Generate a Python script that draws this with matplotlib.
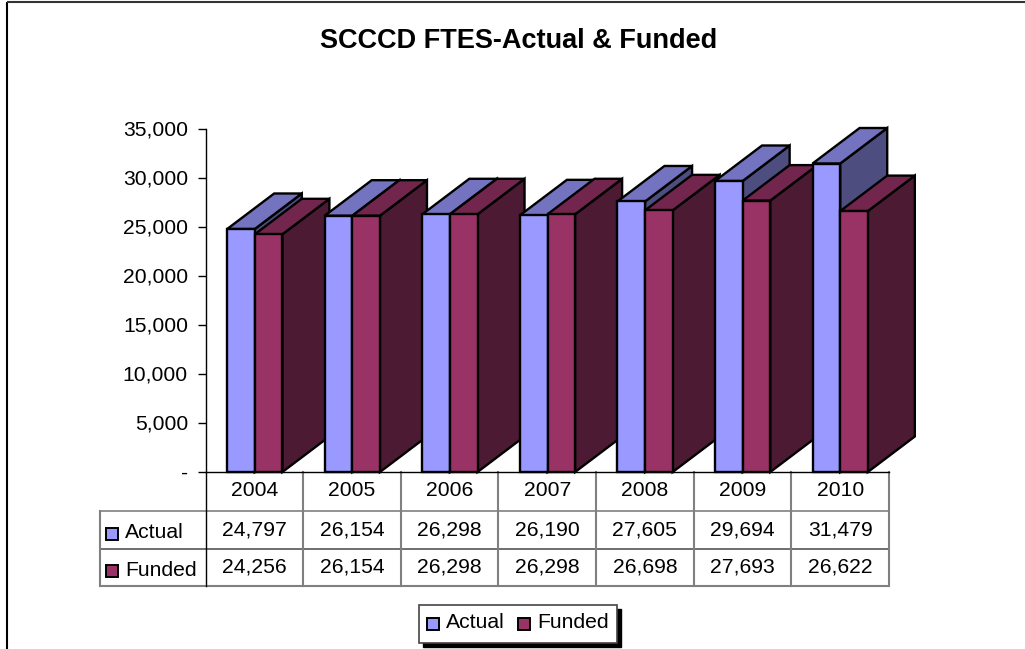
import matplotlib
matplotlib.use('Agg')
import matplotlib.pyplot as plt
from matplotlib.patches import Polygon, Rectangle
from matplotlib.transforms import ScaledTranslation

plt.rcParams['font.family'] = ['Liberation Sans', 'DejaVu Sans']

years = ['2004', '2005', '2006', '2007', '2008', '2009', '2010']
actual = [24797, 26154, 26298, 26190, 27605, 29694, 31479]
funded = [24256, 26154, 26298, 26298, 26698, 27693, 26622]
y_ticks = [0, 5000, 10000, 15000, 20000, 25000, 30000, 35000]
y_labels = ['-', '5,000', '10,000', '15,000', '20,000', '25,000', '30,000', '35,000']

W, H = 1025, 649
FS = 15.2
EDGE = 1.7

# 3d look: colours for front, top and side of each series
actual_cols = ('#9999FF', '#7373BF', '#4D4D80')
funded_cols = ('#993366', '#73264D', '#4D1A33')

fig = plt.figure(figsize=(W / 100, H / 100), dpi=100, facecolor='white')

# overlay in pixels for frame, table and legend
over = fig.add_axes([0, 0, 1, 1], zorder=1)
over.set_xlim(0, W)
over.set_ylim(H, 0)
over.axis('off')
over.patch.set_alpha(0)

ax = fig.add_axes([206 / W, 1 - 472 / H, 683 / W, 343 / H], zorder=2)
ax.patch.set_alpha(0)
ax.set_xlim(0, len(years))
ax.set_ylim(0, 35000)
for s in ['top', 'right']:
    ax.spines[s].set_visible(False)
ax.spines['left'].set_linewidth(1)
ax.spines['bottom'].set_linewidth(1)
ax.set_xticks([])
ax.set_yticks(y_ticks)
ax.set_yticklabels(y_labels, fontsize=FS, color='black')
ax.tick_params(axis='y', length=5.5, width=1, pad=7.5)
for lab in ax.get_yticklabels():
    lab.set_transform(lab.get_transform() + ScaledTranslation(0, 1 / 100, fig.dpi_scale_trans))

bar_w = 0.283
dx = 47 / (683 / len(years))
dy = 35.5 / (343 / 35000)


def draw_bar(x, val, cols, z):
    ax.bar(x, val, bar_w, align='edge', color=cols[0], edgecolor='black',
           linewidth=EDGE, zorder=z + 0.2, clip_on=False)
    x2 = x + bar_w
    top = [(x, val), (x2, val), (x2 + dx, val + dy), (x + dx, val + dy)]
    side = [(x2, 0), (x2 + dx, dy), (x2 + dx, val + dy), (x2, val)]
    ax.add_patch(Polygon(side, closed=True, fc=cols[2], ec='black', lw=EDGE,
                         joinstyle='miter', zorder=z, clip_on=False))
    ax.add_patch(Polygon(top, closed=True, fc=cols[1], ec='black', lw=EDGE,
                         joinstyle='miter', zorder=z + 0.1, clip_on=False))


for i in range(len(years)):
    draw_bar(i + 0.5 - bar_w, actual[i], actual_cols, 3 + i * 2)
    draw_bar(i + 0.5, funded[i], funded_cols, 4 + i * 2)

# chart frame, right and bottom sides fall outside the picture
over.plot([7, 7], [2, H], color='black', lw=1.5, solid_capstyle='butt')
over.plot([7, W], [2, 2], color='#333333', lw=1.5, solid_capstyle='butt')

over.text(519, 41, 'SCCCD FTES-Actual & Funded', fontsize=19.5, fontweight='bold',
          ha='center', va='center')

# data table
left, x0, right = 99.5, 205.5, 889
rows = [472, 511, 549, 586]
col_w = (right - x0) / len(years)
grey = '#808080'
over.plot([left, right], [rows[1], rows[1]], color=grey, lw=1.2)
over.plot([left, right], [rows[2], rows[2]], color='#555555', lw=1.2)
over.plot([left, right], [rows[3], rows[3]], color=grey, lw=1.5)
over.plot([left, left], [rows[1], rows[3]], color=grey, lw=1.5)
over.plot([x0, x0], [472, rows[3]], color='black', lw=1)
for i in range(1, len(years) + 1):
    xl = x0 + i * col_w
    over.plot([xl, xl], [472, rows[3]], color=grey, lw=1.5)

for i, yr in enumerate(years):
    xc = x0 + (i + 0.5) * col_w
    over.text(xc, 491, yr, fontsize=FS, ha='center', va='center')
    over.text(xc, 530, f'{actual[i]:,}', fontsize=FS, ha='center', va='center')
    over.text(xc, 567, f'{funded[i]:,}', fontsize=FS, ha='center', va='center')


def swatch(x, y, col):
    over.add_patch(Rectangle((x, y), 12, 12, fc=col, ec='black', lw=1.4))


swatch(106, 528, actual_cols[0])
swatch(106, 565, funded_cols[0])
over.text(125, 532.5, 'Actual', fontsize=FS, va='center')
over.text(125, 570, 'Funded', fontsize=FS, va='center')

# legend with drop shadow
over.add_patch(Rectangle((423, 609), 198, 38, fc='black', ec='black', lw=1))
over.add_patch(Rectangle((419, 605), 198, 38, fc='white', ec='#444444', lw=1.2))
swatch(427, 618, actual_cols[0])
swatch(518, 618, funded_cols[0])
over.text(446, 623, 'Actual', fontsize=FS, va='center')
over.text(537, 623, 'Funded', fontsize=FS, va='center')

fig.savefig('out.png', dpi=100)
